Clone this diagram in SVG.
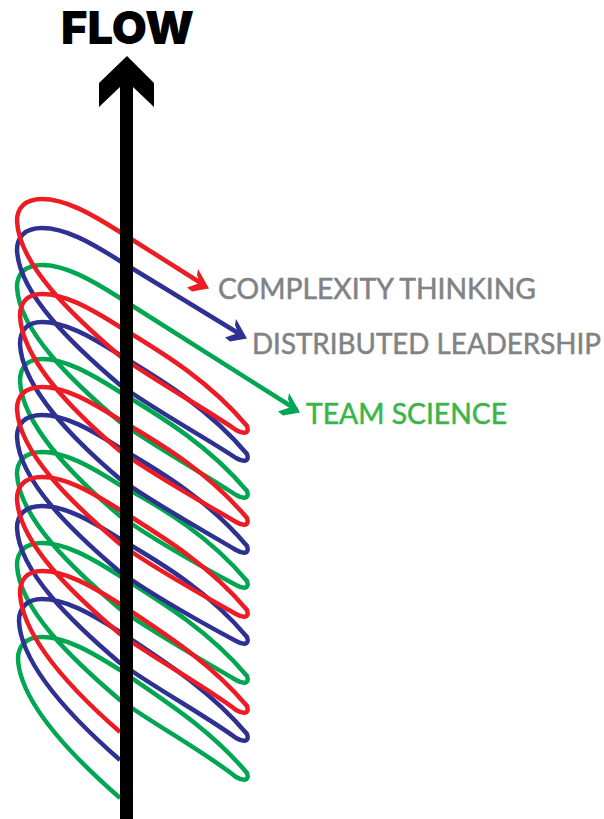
<svg xmlns="http://www.w3.org/2000/svg" width="604" height="819" viewBox="0 0 604 819">
<style>
.s{fill:none;stroke-width:4.500;stroke-linejoin:round;stroke-linecap:butt}
.l{font-family:"Lato","Noto Sans",sans-serif;font-weight:400;font-size:28px;stroke-width:.5px}
</style>
<defs><path id="head" d="M198,269L209,288.500L192,291.500L187,287.500L200,283L197,275Z"/></defs>
<rect width="604" height="819" fill="#fff"/>
<g id="connectors">
<path class="s" stroke="#00a651" d="M297,410L120,298c-30,-19 -55,-33 -78,-33c-17,0 -25,9 -25,22c2,44 56,95 103,135c40,28 86,53 116,73c6,3.500 14,5 11,-4c-37,-44 -82,-72 -127,-99c-30,-19 -55,-33 -78,-33c-15,0 -22,9 -22,22c2,44 53,95 100,135c40,28 86,53 116,69c6,3.500 14,5 11,-4c-37,-44 -82,-72 -127,-96c-30,-19 -55,-33 -78,-33c-17,0 -25,9 -25,22c2,44 56,95 103,135c40,28 86,53 116,71c6,3.500 14,5 11,-4c-37,-44 -82,-72 -127,-100c-30,-19 -55,-33 -78,-33c-17,0 -25,9 -25,22c2,44 56,95 103,135c40,28 86,53 116,77c6,3.500 14,5 11,-4c-37,-44 -82,-72 -127,-103c-30,-19 -55,-33 -78,-33c-16,0 -24,9 -24,22c2,44 55,98 102,139"/>
<path class="s" stroke="#2e3192" d="M243,336L120,261c-30,-19 -55,-33 -78,-33c-17,0 -25,9 -25,22c2,44 56,95 103,135c40,28 86,53 116,73c6,3.500 14,5 11,-4c-37,-44 -82,-72 -127,-99c-30,-19 -55,-33 -78,-33c-15,0 -22,9 -22,22c2,44 53,95 100,135c40,28 86,53 116,71c6,3.500 14,5 11,-4c-37,-44 -82,-72 -127,-98c-30,-19 -55,-33 -78,-33c-17,0 -25,9 -25,22c2,44 56,95 103,135c40,28 86,53 116,69c6,3.500 14,5 11,-4c-37,-44 -82,-72 -127,-98c-30,-19 -55,-33 -78,-33c-17,0 -25,9 -25,22c2,44 56,95 103,135c40,28 86,53 116,75c6,3.500 14,5 11,-4c-37,-44 -82,-72 -127,-102c-30,-19 -55,-33 -78,-33c-15,0 -23,9 -23,22c2,44 54,98 101,139"/>
<path class="s" stroke="#ed1c24" d="M204,285L120,232c-30,-19 -55,-33 -78,-33c-17,0 -25,9 -25,22c2,44 56,95 103,135c40,28 86,53 116,74c6,3.500 14,5 11,-4c-37,-44 -82,-72 -127,-99c-30,-19 -55,-33 -78,-33c-15,0 -22,9 -22,22c2,44 53,95 100,135c40,28 86,53 116,71c6,3.500 14,5 11,-4c-37,-44 -82,-72 -127,-98c-30,-19 -55,-33 -78,-33c-17,0 -25,9 -25,22c2,44 56,95 103,135c40,28 86,53 116,70c6,3.500 14,5 11,-4c-37,-44 -82,-72 -127,-100c-30,-19 -55,-33 -78,-33c-17,0 -25,9 -25,22c2,44 56,95 103,135c40,28 86,53 116,76c6,3.500 14,5 11,-4c-37,-44 -82,-72 -127,-102c-30,-19 -55,-33 -78,-33c-15,0 -22,9 -22,22c2,44 53,98 100,139"/>
<use href="#head" fill="#ed1c24"/>
<use href="#head" fill="#2e3192" x="38" y="50"/>
<use href="#head" fill="#00a651" x="91" y="124"/>
</g>
<g id="flow-arrow">
<path fill="#000" d="M127,56L154,83V107L133,87V819H120V87L99,107V83Z"/>
<text x="61" y="44" font-family="Inter,'Liberation Sans',sans-serif" font-weight="900" font-size="46" textLength="133" lengthAdjust="spacingAndGlyphs">FLOW</text>
</g>
<g id="complexity-thinking"><text class="l" x="218" y="299" fill="#808285" stroke="#808285" textLength="318" lengthAdjust="spacingAndGlyphs">COMPLEXITY THINKING</text></g>
<g id="distributed-leadership"><text class="l" x="252" y="354" fill="#808285" stroke="#808285" textLength="349" lengthAdjust="spacingAndGlyphs">DISTRIBUTED LEADERSHIP</text></g>
<g id="team-science"><text class="l" x="306" y="424" fill="#39b54a" stroke="#39b54a" textLength="201" lengthAdjust="spacingAndGlyphs">TEAM SCIENCE</text></g>
</svg>
